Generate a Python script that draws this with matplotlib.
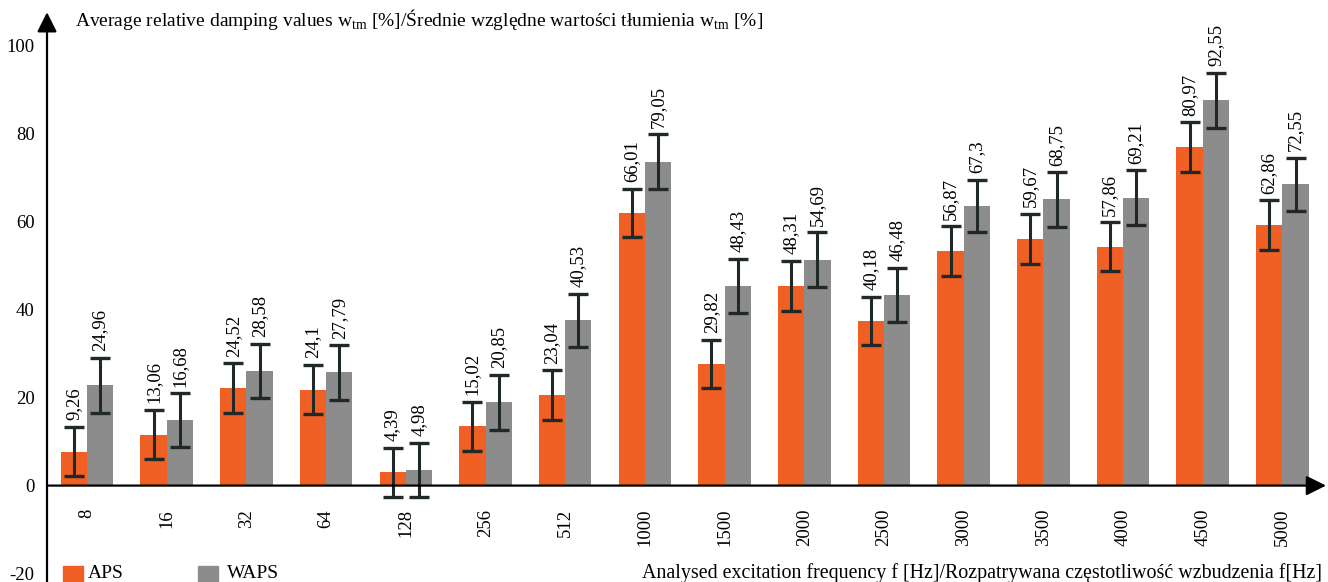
import numpy as np
import matplotlib
matplotlib.use("Agg")
import matplotlib.pyplot as plt
from matplotlib.patches import Rectangle

plt.rcParams["font.family"] = ["Liberation Serif", "DejaVu Serif"]
plt.rcParams["mathtext.fontset"] = "custom"
plt.rcParams["mathtext.rm"] = "Liberation Serif"
plt.rcParams["axes.unicode_minus"] = False

freqs = ["8", "16", "32", "64", "128", "256", "512", "1000", "1500",
         "2000", "2500", "3000", "3500", "4000", "4500", "5000"]

# bar heights and error half-widths
aps = [7.7, 11.6, 22.2, 21.8, 3.0, 13.5, 20.6, 61.9,
       27.6, 45.3, 37.4, 53.2, 56.1, 54.3, 76.9, 59.2]
aps_err = [5.6, 5.6, 5.6, 5.6, 5.6, 5.6, 5.6, 5.5,
           5.5, 5.7, 5.5, 5.7, 5.7, 5.5, 5.6, 5.6]
waps = [22.8, 14.9, 26.0, 25.7, 3.6, 18.9, 37.5, 73.6,
        45.3, 51.3, 43.3, 63.5, 65.0, 65.4, 87.5, 68.4]
waps_err = [6.2, 6.1, 6.2, 6.2, 6.1, 6.2, 6.0, 6.2,
            6.2, 6.2, 6.2, 6.0, 6.2, 6.2, 6.2, 6.1]

# printed value labels
aps_lab = ["9,26", "13,06", "24,52", "24,1", "4,39", "15,02", "23,04", "66,01",
           "29,82", "48,31", "40,18", "56,87", "59,67", "57,86", "80,97", "62,86"]
waps_lab = ["24,96", "16,68", "28,58", "27,79", "4,98", "20,85", "40,53", "79,05",
            "48,43", "54,69", "46,48", "67,3", "68,75", "69,21", "92,55", "72,55"]

orange = "#f05f23"
grey = "#8c8c8c"
dark = "#202828"
fs = 13.5

W, H = 1328, 582
fig = plt.figure(figsize=(W / 100, H / 100), dpi=100)
ax = fig.add_axes([47 / W, 0, (1326 - 47) / W, 1])
ax.set_xlim(-0.502, 15.546)
ax.set_ylim(-21.9, 110.3)

x = np.arange(len(freqs))
bw = 0.33
ax.bar(x - bw / 2, aps, bw, color=orange, zorder=2)
ax.bar(x + bw / 2, waps, bw, color=grey, zorder=2)
ekw = dict(fmt="none", ecolor=dark, elinewidth=2.2, capsize=7, capthick=2.4, zorder=3)
ax.errorbar(x - bw / 2, aps, yerr=aps_err, **ekw)
ax.errorbar(x + bw / 2, waps, yerr=waps_err, **ekw)

for i in range(len(freqs)):
    ax.text(x[i] - bw / 2, aps[i] + aps_err[i] + 1.5, aps_lab[i], rotation=90,
            ha="center", va="bottom", fontsize=fs)
    ax.text(x[i] + bw / 2, waps[i] + waps_err[i] + 1.5, waps_lab[i], rotation=90,
            ha="center", va="bottom", fontsize=fs)
    ax.text(x[i], -5.3, freqs[i], rotation=90, ha="center", va="top", fontsize=fs)

for s in ax.spines.values():
    s.set_visible(False)
ax.set_xticks([])
ax.set_yticks(range(-20, 101, 20))
ax.tick_params(axis="y", length=0, pad=9, labelsize=fs)

# axes drawn as arrows
arr = dict(arrowstyle="-|>,head_length=0.6,head_width=0.3", lw=1.6, color="black",
           mutation_scale=20, shrinkA=0, shrinkB=0)
ax.annotate("", xy=(0, 0.979), xytext=(0, 0), xycoords="axes fraction",
            arrowprops=arr, annotation_clip=False)
ax.annotate("", xy=(1.0, 0), xytext=(0, 0), xycoords=("axes fraction", "data"),
            textcoords=("axes fraction", "data"), arrowprops=arr, zorder=4,
            annotation_clip=False)

fig.text(75 / W, 1 - 20 / H,
         r"Average relative damping values w$_{\rm tm}$ [%]/Średnie względne wartości tłumienia w$_{\rm tm}$ [%]",
         ha="left", va="center", fontsize=14)
fig.text(1322 / W, 1 - 573 / H,
         "Analysed excitation frequency f [Hz]/Rozpatrywana częstotliwość wzbudzenia f[Hz]",
         ha="right", va="center", fontsize=14.4)

# legend
for x0, col, name, tx in [(63, orange, "APS", 88), (198, grey, "WAPS", 227)]:
    fig.add_artist(Rectangle((x0 / W, 0), 20 / W, 16 / H, transform=fig.transFigure,
                             color=col))
    fig.text(tx / W, 1 - 573 / H, name, ha="left", va="center", fontsize=14)

fig.savefig("out.png", dpi=100)
